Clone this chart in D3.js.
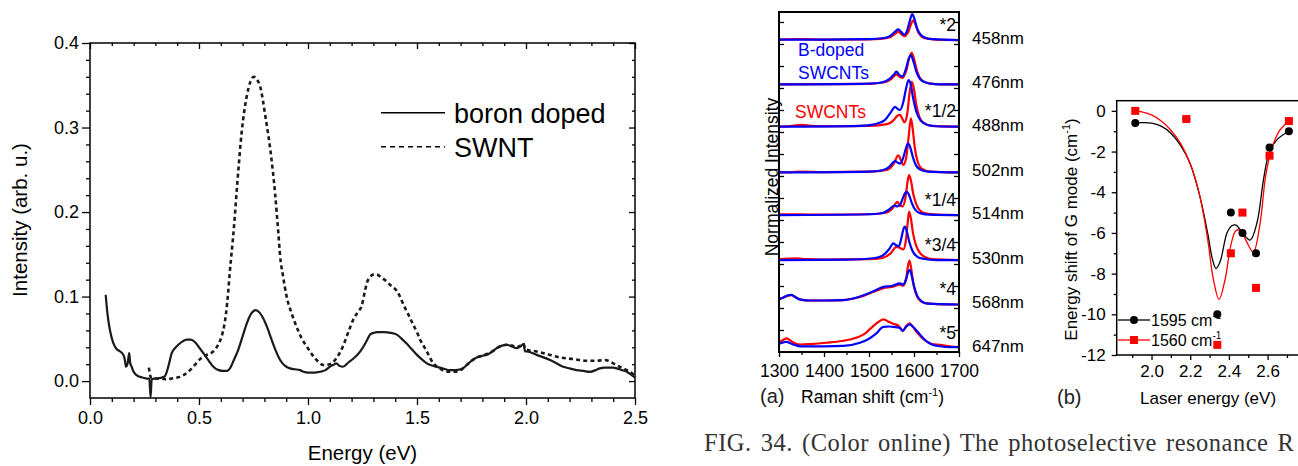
<!DOCTYPE html>
<html>
<head>
<meta charset="utf-8">
<script src="https://cdn.jsdelivr.net/npm/d3@7"></script>
<style>
  body { margin: 0; background: #fff; }
  svg { display: block; }
</style>
</head>
<body>
<svg id="fig" width="1298" height="466"></svg>
<script>
// ---------------- Absorption spectra (left panel) ----------------
const energyTicks = [0, 0.5, 1.0, 1.5, 2.0, 2.5];
const intensityTicks = [0, 0.1, 0.2, 0.3, 0.4];
const absSeriesNames = ["boron doped", "SWNT"];

// [energy (eV), intensity (arb. u.)]
const boronDoped = [
  [0.072,0.102],[0.078,0.085],[0.084,0.072],[0.095,0.056],[0.107,0.045],[0.122,0.038],[0.138,0.035],
  [0.153,0.031],[0.160,0.025],[0.165,0.017],[0.172,0.020],[0.178,0.031],[0.180,0.033],[0.184,0.022],
  [0.191,0.017],[0.200,0.011],[0.214,0.007],[0.230,0.005],[0.245,0.004],[0.260,0.003],[0.272,0.003],
  [0.278,-0.019],[0.283,0.002],[0.295,0.003],[0.306,0.003],[0.325,0.004],[0.344,0.006],[0.360,0.018],
  [0.375,0.033],[0.390,0.039],[0.405,0.043],[0.425,0.047],[0.443,0.049],[0.462,0.049],[0.482,0.046],
  [0.500,0.040],[0.520,0.033],[0.545,0.024],[0.566,0.017],[0.590,0.013],[0.612,0.012],[0.630,0.012],
  [0.642,0.015],[0.660,0.025],[0.680,0.037],[0.700,0.053],[0.719,0.068],[0.740,0.080],[0.760,0.084],
  [0.778,0.081],[0.795,0.074],[0.815,0.062],[0.833,0.049],[0.852,0.036],[0.872,0.025],[0.895,0.018],
  [0.917,0.015],[0.940,0.014],[0.963,0.013],[0.980,0.011],[1.000,0.010],[1.030,0.010],[1.055,0.011],
  [1.080,0.013],[1.100,0.017],[1.115,0.019],[1.130,0.021],[1.145,0.018],[1.160,0.017],[1.185,0.022],
  [1.210,0.027],[1.230,0.032],[1.250,0.039],[1.270,0.048],[1.285,0.055],[1.300,0.057],[1.320,0.058],
  [1.350,0.058],[1.380,0.057],[1.407,0.055],[1.430,0.050],[1.450,0.045],[1.475,0.038],[1.500,0.031],
  [1.525,0.025],[1.545,0.021],[1.575,0.018],[1.605,0.016],[1.630,0.014],[1.650,0.013],[1.675,0.013],
  [1.700,0.014],[1.715,0.016],[1.728,0.019],[1.750,0.024],[1.774,0.028],[1.800,0.030],[1.820,0.031],
  [1.845,0.035],[1.866,0.039],[1.890,0.042],[1.910,0.043],[1.935,0.041],[1.957,0.039],[1.975,0.041],
  [1.990,0.044],[1.995,0.035],[2.003,0.035],[2.049,0.031],[2.110,0.025],[2.140,0.021],[2.171,0.017],
  [2.200,0.015],[2.232,0.013],[2.264,0.012],[2.294,0.011],[2.320,0.013],[2.339,0.015],[2.360,0.016],
  [2.378,0.016],[2.400,0.016],[2.416,0.015],[2.440,0.013],[2.462,0.011],[2.480,0.008],[2.500,0.004]
];

const swnt = [
  [0.270,0.016],[0.275,0.008],[0.280,0.004],[0.300,0.003],[0.330,0.003],[0.350,0.002],[0.375,0.003],
  [0.395,0.004],[0.413,0.005],[0.435,0.008],[0.459,0.013],[0.480,0.019],[0.505,0.026],[0.535,0.031],
  [0.555,0.033],[0.573,0.037],[0.590,0.044],[0.604,0.053],[0.615,0.065],[0.624,0.080],[0.633,0.103],
  [0.642,0.131],[0.658,0.175],[0.676,0.235],[0.696,0.295],[0.719,0.337],[0.737,0.355],[0.752,0.360],
  [0.765,0.357],[0.780,0.349],[0.807,0.309],[0.829,0.270],[0.849,0.222],[0.864,0.175],[0.872,0.148],
  [0.885,0.125],[0.902,0.100],[0.925,0.080],[0.948,0.064],[0.970,0.051],[0.994,0.041],[1.020,0.031],
  [1.047,0.023],[1.070,0.019],[1.100,0.020],[1.130,0.027],[1.160,0.041],[1.185,0.058],[1.210,0.074],
  [1.230,0.082],[1.246,0.089],[1.260,0.105],[1.270,0.116],[1.284,0.123],[1.300,0.126],[1.315,0.126],
  [1.340,0.122],[1.360,0.118],[1.376,0.114],[1.390,0.111],[1.407,0.107],[1.420,0.101],[1.435,0.092],
  [1.450,0.084],[1.460,0.079],[1.480,0.068],[1.500,0.058],[1.514,0.049],[1.530,0.042],[1.545,0.035],
  [1.575,0.021],[1.605,0.015],[1.625,0.012],[1.650,0.011],[1.675,0.011],[1.700,0.013],[1.715,0.016],
  [1.728,0.019],[1.750,0.024],[1.774,0.028],[1.800,0.030],[1.820,0.032],[1.845,0.035],[1.866,0.039],
  [1.890,0.042],[1.910,0.043],[1.935,0.042],[1.957,0.040],[1.975,0.042],[1.990,0.044],[1.995,0.038],
  [2.003,0.037],[2.049,0.035],[2.110,0.031],[2.156,0.028],[2.217,0.026],[2.278,0.024],[2.320,0.024],
  [2.362,0.025],[2.400,0.021],[2.430,0.017],[2.462,0.013],[2.500,0.007]
];

// ---------------- (a) Raman G-band spectra ----------------
const ramanTicks = [1300, 1400, 1500, 1600, 1700];
const laserLines = ["458nm", "476nm", "488nm", "502nm", "514nm", "530nm", "568nm", "647nm"];
const scaleNotes = ["*2", "", "*1/2", "", "*1/4", "*3/4", "*4", "*5"];
const stackOffsets = [7.09, 6.08, 5.12, 4.08, 3.11, 2.09, 1.08, 0.08];

// [Raman shift (cm-1), normalized intensity]
const blue458 = [[1300,0.01],[1400,0.01],[1500,0.02],[1530,0.04],[1545,0.08],[1555,0.16],[1565,0.24],[1572,0.18],[1578,0.12],[1585,0.22],[1591,0.45],[1596,0.59],[1601,0.48],[1607,0.26],[1615,0.12],[1625,0.05],[1640,0.02],[1700,0.0]];
const red458  = [[1300,0.01],[1350,0.02],[1400,0.01],[1500,0.015],[1530,0.03],[1548,0.07],[1558,0.14],[1565,0.19],[1572,0.13],[1579,0.09],[1588,0.2],[1594,0.38],[1598,0.45],[1603,0.36],[1609,0.19],[1617,0.08],[1630,0.03],[1650,0.01],[1700,0.0]];
const blue476 = [[1300,0.0],[1500,0.02],[1530,0.05],[1545,0.12],[1555,0.22],[1561,0.29],[1567,0.22],[1574,0.18],[1582,0.35],[1588,0.58],[1593,0.67],[1598,0.55],[1605,0.3],[1613,0.13],[1625,0.05],[1645,0.01],[1700,0.0]];
const red476  = [[1300,0.0],[1500,0.015],[1535,0.05],[1550,0.13],[1561,0.23],[1567,0.18],[1574,0.15],[1583,0.32],[1590,0.62],[1595,0.72],[1600,0.58],[1607,0.3],[1615,0.12],[1627,0.04],[1650,0.01],[1700,0.0]];
const blue488 = [[1300,0.0],[1480,0.02],[1515,0.06],[1535,0.15],[1548,0.32],[1558,0.45],[1564,0.4],[1569,0.38],[1576,0.55],[1582,0.85],[1588,1.06],[1593,0.95],[1598,0.65],[1605,0.35],[1615,0.14],[1630,0.04],[1650,0.01],[1700,0.0]];
const red488  = [[1300,0.0],[1330,0.02],[1350,0.04],[1370,0.02],[1400,0.01],[1500,0.02],[1540,0.06],[1555,0.15],[1563,0.25],[1569,0.27],[1574,0.18],[1579,0.1],[1585,0.3],[1590,0.75],[1595,1.02],[1600,0.85],[1605,0.5],[1612,0.22],[1622,0.08],[1640,0.02],[1700,0.0]];
const blue502 = [[1300,0.0],[1500,0.02],[1530,0.05],[1545,0.13],[1558,0.26],[1564,0.22],[1569,0.2],[1576,0.33],[1582,0.55],[1587,0.66],[1592,0.56],[1598,0.33],[1605,0.15],[1615,0.06],[1630,0.02],[1700,0.0]];
const red502  = [[1300,0.0],[1330,0.01],[1350,0.02],[1400,0.01],[1500,0.02],[1540,0.06],[1555,0.2],[1565,0.39],[1571,0.28],[1576,0.17],[1582,0.3],[1588,0.8],[1593,1.23],[1597,1.0],[1602,0.55],[1608,0.25],[1618,0.08],[1635,0.02],[1700,0.0]];
const blue514 = [[1300,0.0],[1500,0.02],[1530,0.05],[1545,0.13],[1556,0.22],[1563,0.2],[1568,0.22],[1575,0.38],[1580,0.5],[1584,0.53],[1589,0.46],[1595,0.28],[1603,0.12],[1615,0.04],[1635,0.01],[1700,0.0]];
const red514  = [[1300,0.02],[1350,0.02],[1400,0.01],[1500,0.02],[1540,0.06],[1553,0.16],[1563,0.30],[1569,0.22],[1575,0.2],[1581,0.4],[1586,0.78],[1589,0.91],[1593,0.8],[1598,0.5],[1604,0.28],[1612,0.12],[1625,0.04],[1650,0.01],[1700,0.0]];
const blue530 = [[1300,0.0],[1450,0.01],[1510,0.04],[1530,0.1],[1545,0.25],[1554,0.38],[1560,0.34],[1566,0.31],[1572,0.5],[1577,0.72],[1580,0.76],[1584,0.65],[1590,0.4],[1597,0.2],[1607,0.08],[1620,0.03],[1650,0.0],[1700,0.0]];
const red530  = [[1300,0.02],[1340,0.04],[1360,0.02],[1400,0.01],[1500,0.02],[1530,0.05],[1548,0.15],[1561,0.30],[1568,0.28],[1576,0.24],[1582,0.45],[1586,0.85],[1589,1.10],[1593,0.95],[1598,0.6],[1604,0.35],[1612,0.18],[1622,0.08],[1640,0.02],[1700,0.0]];
const blue568 = [[1300,0.12],[1310,0.16],[1320,0.21],[1328,0.22],[1336,0.17],[1348,0.11],[1370,0.09],[1400,0.09],[1443,0.1],[1480,0.18],[1510,0.3],[1532,0.4],[1550,0.42],[1569,0.48],[1576,0.45],[1583,0.6],[1588,0.76],[1591,0.78],[1595,0.65],[1600,0.42],[1607,0.2],[1617,0.07],[1630,0.02],[1700,0.0]];
const red568  = [[1300,0.12],[1310,0.16],[1320,0.2],[1328,0.21],[1336,0.17],[1348,0.11],[1370,0.09],[1400,0.09],[1443,0.1],[1480,0.17],[1510,0.29],[1532,0.37],[1550,0.4],[1569,0.45],[1576,0.43],[1582,0.55],[1587,0.9],[1590,1.0],[1594,0.8],[1598,0.5],[1604,0.25],[1612,0.1],[1625,0.03],[1650,0.01],[1700,0.0]];
const blue647 = [[1300,0.11],[1310,0.14],[1317,0.15],[1325,0.12],[1335,0.08],[1348,0.05],[1400,0.05],[1443,0.06],[1480,0.13],[1500,0.22],[1515,0.33],[1532,0.49],[1545,0.5],[1554,0.49],[1565,0.48],[1570,0.45],[1575,0.40],[1582,0.49],[1590,0.55],[1597,0.5],[1608,0.38],[1618,0.26],[1628,0.16],[1640,0.09],[1658,0.05],[1680,0.03],[1700,0.03]];
const red647  = [[1300,0.15],[1310,0.2],[1317,0.23],[1325,0.18],[1335,0.12],[1348,0.09],[1370,0.1],[1406,0.13],[1440,0.17],[1473,0.25],[1490,0.33],[1502,0.44],[1518,0.58],[1532,0.66],[1545,0.6],[1554,0.56],[1565,0.52],[1570,0.46],[1575,0.40],[1582,0.5],[1590,0.57],[1597,0.5],[1608,0.35],[1618,0.24],[1628,0.16],[1640,0.1],[1658,0.08],[1680,0.05],[1700,0.03]];

const blueSpectra = [blue458, blue476, blue488, blue502, blue514, blue530, blue568, blue647];
const redSpectra  = [red458, red476, red488, red502, red514, red530, red568, red647];

// ---------------- (b) G-mode shift vs laser energy ----------------
const laserTicks = [2.0, 2.2, 2.4, 2.6];
const shiftTicks = [0, -2, -4, -6, -8, -10, -12];
const modeNames = ["1595", "1560"];
// measured shifts [laser energy (eV), shift (cm-1)]
const shift1595 = [[1.916,-0.6],[2.18,-0.4],[2.34,-10.0],[2.41,-5.0],[2.47,-6.0],[2.54,-7.0],[2.61,-1.8],[2.71,-1.0]];
const shift1560 = [[1.916,0.0],[2.18,-0.4],[2.34,-11.5],[2.41,-7.0],[2.47,-5.0],[2.54,-8.7],[2.61,-2.2],[2.71,-0.5]];
// fitted guide curves
const fit1595 = [[1.916,-0.6],[1.95,-0.58],[2.0,-0.6],[2.05,-0.75],[2.1,-1.1],[2.15,-1.7],[2.2,-2.6],[2.25,-4.2],[2.29,-6.0],[2.315,-7.3],[2.333,-7.75],[2.355,-7.4],[2.39,-6.0],[2.415,-5.65],[2.437,-5.62],[2.47,-6.0],[2.51,-6.35],[2.545,-5.5],[2.58,-3.3],[2.61,-2.0],[2.65,-1.4],[2.71,-1.0]];
const fit1560 = [[1.916,0.0],[1.95,-0.05],[2.0,-0.2],[2.05,-0.5],[2.1,-0.95],[2.15,-1.6],[2.2,-2.6],[2.25,-4.2],[2.29,-6.3],[2.32,-8.3],[2.349,-9.27],[2.38,-8.3],[2.41,-6.6],[2.435,-5.9],[2.457,-5.86],[2.49,-6.4],[2.526,-6.95],[2.56,-5.6],[2.59,-3.2],[2.62,-1.9],[2.66,-1.0],[2.71,-0.5]];

// ================================================================
const svg = d3.select("#fig");
const SANS = "'Liberation Sans', Arial, Helvetica, sans-serif";

function styleAxis(g, size) {
  g.select(".domain").remove();
  g.selectAll(".tick line").attr("stroke", "#000").attr("stroke-width", 1.3);
  g.selectAll(".tick text").attr("font-family", SANS).attr("font-size", size).attr("fill", "#000");
  return g;
}
const steps = (a, b, s) => d3.range(Math.round((b - a) / s) + 1).map(i => +(a + i * s).toFixed(4));
const notIn = (arr) => (v) => !arr.some(t => Math.abs(t - v) < 1e-6);

// ---------- Left panel ----------
{
  const x = d3.scaleLinear().domain([0, 2.5]).range([90, 635]);
  const y = d3.scaleLinear().domain([-0.02, 0.4]).range([398, 43]);
  const g = svg.append("g");

  const xMinor = steps(0, 2.5, 0.1).filter(notIn(energyTicks));
  const yMinor = steps(0, 0.4, 0.02).filter(notIn(intensityTicks));

  styleAxis(g.append("g").attr("transform", "translate(0,398)")
    .call(d3.axisBottom(x).tickValues(energyTicks).tickSize(7).tickPadding(6).tickFormat(d3.format(".1f"))), 18);
  styleAxis(g.append("g").attr("transform", "translate(0,398)")
    .call(d3.axisBottom(x).tickValues(xMinor).tickSize(4).tickFormat("")), 18);
  styleAxis(g.append("g").attr("transform", "translate(0,43)")
    .call(d3.axisTop(x).tickValues(energyTicks).tickSize(-6).tickFormat("")), 18);
  styleAxis(g.append("g").attr("transform", "translate(0,43)")
    .call(d3.axisTop(x).tickValues(xMinor).tickSize(-3).tickFormat("")), 18);
  styleAxis(g.append("g").attr("transform", "translate(90,0)")
    .call(d3.axisLeft(y).tickValues(intensityTicks).tickSize(8).tickPadding(3).tickFormat(d3.format(".1f"))), 18);
  styleAxis(g.append("g").attr("transform", "translate(90,0)")
    .call(d3.axisLeft(y).tickValues(yMinor).tickSize(4).tickFormat("")), 18);
  styleAxis(g.append("g").attr("transform", "translate(635,0)")
    .call(d3.axisRight(y).tickValues(intensityTicks).tickSize(-6).tickFormat("")), 18);
  styleAxis(g.append("g").attr("transform", "translate(635,0)")
    .call(d3.axisRight(y).tickValues(yMinor).tickSize(-3).tickFormat("")), 18);

  g.append("rect").attr("x", 90).attr("y", 43).attr("width", 545).attr("height", 355)
    .attr("fill", "none").attr("stroke", "#000").attr("stroke-width", 1.5);

  const line = d3.line().x(d => x(d[0])).y(d => y(d[1])).curve(d3.curveMonotoneX);
  g.append("path").datum(swnt).attr("d", line).attr("fill", "none")
    .attr("stroke", "#1a1a1a").attr("stroke-width", 2.6).attr("stroke-dasharray", "4,3.2");
  g.append("path").datum(boronDoped).attr("d", line).attr("fill", "none")
    .attr("stroke", "#1a1a1a").attr("stroke-width", 2.2).attr("stroke-linejoin", "round");

  // legend
  const leg = g.append("g").attr("font-family", SANS).attr("font-size", 27).attr("fill", "#000");
  leg.append("line").attr("x1", 381).attr("x2", 445).attr("y1", 112.7).attr("y2", 112.7)
    .attr("stroke", "#000").attr("stroke-width", 1.6);
  leg.append("line").attr("x1", 381).attr("x2", 445).attr("y1", 146.7).attr("y2", 146.7)
    .attr("stroke", "#000").attr("stroke-width", 1.6).attr("stroke-dasharray", "5,4");
  leg.append("text").attr("x", 454).attr("y", 123).text(absSeriesNames[0]);
  leg.append("text").attr("x", 454).attr("y", 157).text(absSeriesNames[1]);

  g.append("text").attr("transform", "translate(27,220) rotate(-90)").attr("text-anchor", "middle")
    .attr("font-family", SANS).attr("font-size", 20.5).text("Intensity (arb. u.)");
  g.append("text").attr("x", 362.5).attr("y", 460).attr("text-anchor", "middle")
    .attr("font-family", SANS).attr("font-size", 20.5).text("Energy (eV)");
}

// ---------- Panel (a) ----------
{
  const x = d3.scaleLinear().domain([1300, 1700]).range([779, 959]);
  const y = d3.scaleLinear().domain([0, 7.727]).range([352, 12]);
  const g = svg.append("g");

  const line = d3.line().x(d => x(d[0])).curve(d3.curveMonotoneX);
  laserLines.forEach((name, i) => {
    const off = stackOffsets[i];
    line.y(d => y(d[1] + off));
    g.append("path").datum(redSpectra[i]).attr("d", line).attr("fill", "none")
      .attr("stroke", "#ff0000").attr("stroke-width", 2.2).attr("stroke-linejoin", "round");
    g.append("path").datum(blueSpectra[i]).attr("d", line).attr("fill", "none")
      .attr("stroke", "#0000ff").attr("stroke-width", 2.2).attr("stroke-linejoin", "round");
    g.append("text").attr("x", 972).attr("y", y(off) + 4).attr("font-family", SANS)
      .attr("font-size", 17).attr("fill", "#000").text(name);
    if (scaleNotes[i]) {
      g.append("text").attr("x", 956).attr("y", y(off) - 9.5).attr("text-anchor", "end")
        .attr("font-family", SANS).attr("font-size", 17.5).attr("fill", "#000").text(scaleNotes[i]);
    }
  });

  const xMinor = steps(1350, 1650, 100);
  const yTicks = steps(0.5, 7.5, 0.5);
  styleAxis(g.append("g").attr("transform", "translate(0,352)")
    .call(d3.axisBottom(x).tickValues(ramanTicks).tickSize(5).tickPadding(7.5).tickFormat(d3.format("d"))), 17.5);
  styleAxis(g.append("g").attr("transform", "translate(0,352)")
    .call(d3.axisBottom(x).tickValues(xMinor).tickSize(3).tickFormat("")), 17);
  styleAxis(g.append("g").attr("transform", "translate(779,0)")
    .call(d3.axisLeft(y).tickValues(yTicks).tickSize(-5).tickFormat("")), 17);
  styleAxis(g.append("g").attr("transform", "translate(959,0)")
    .call(d3.axisRight(y).tickValues(yTicks).tickSize(-5).tickFormat("")), 17);

  g.append("rect").attr("x", 779).attr("y", 12).attr("width", 180).attr("height", 340)
    .attr("fill", "none").attr("stroke", "#000").attr("stroke-width", 2);

  const t = g.append("g").attr("font-family", SANS).attr("font-size", 17.5);
  t.append("text").attr("x", 798).attr("y", 56).attr("fill", "#0000ff").text("B-doped");
  t.append("text").attr("x", 798).attr("y", 78.5).attr("fill", "#0000ff").text("SWCNTs");
  t.append("text").attr("x", 795).attr("y", 118).attr("fill", "#ff0000").text("SWCNTs");

  g.append("text").attr("transform", "translate(778,177) rotate(-90)").attr("text-anchor", "middle")
    .attr("font-family", SANS).attr("font-size", 17.5).attr("fill", "#000").text("Normalized Intensity");

  g.append("text").attr("x", 760).attr("y", 403).attr("font-family", SANS).attr("font-size", 20)
    .attr("fill", "#222").text("(a)");
  const xt = g.append("text").attr("x", 801).attr("y", 403).attr("font-family", SANS)
    .attr("font-size", 17.5).attr("fill", "#000");
  xt.append("tspan").text("Raman shift (cm");
  xt.append("tspan").attr("font-size", 11).attr("dy", -7).text("-1");
  xt.append("tspan").attr("dy", 7).text(")");
}

// ---------- Panel (b) ----------
{
  const x = d3.scaleLinear().domain([1.82, 2.8]).range([1116.7, 1306.3]);
  const y = d3.scaleLinear().domain([-12, 0.5]).range([355, 100.7]);
  const g = svg.append("g");

  const xMinor = steps(1.9, 2.7, 0.2);
  const yMinor = steps(-11, -1, 2);
  styleAxis(g.append("g").attr("transform", "translate(0,355)")
    .call(d3.axisBottom(x).tickValues(laserTicks).tickSize(5).tickPadding(5).tickFormat(d3.format(".1f"))), 17);
  styleAxis(g.append("g").attr("transform", "translate(0,355)")
    .call(d3.axisBottom(x).tickValues(xMinor).tickSize(3).tickFormat("")), 17);
  styleAxis(g.append("g").attr("transform", "translate(1116.7,0)")
    .call(d3.axisLeft(y).tickValues(shiftTicks).tickSize(5).tickPadding(6).tickFormat(d => d === 0 ? "0" : "-" + Math.abs(d))), 17);
  styleAxis(g.append("g").attr("transform", "translate(1116.7,0)")
    .call(d3.axisLeft(y).tickValues(yMinor).tickSize(3).tickFormat("")), 17);

  g.append("rect").attr("x", 1116.7).attr("y", 100.7).attr("width", 189.6).attr("height", 254.3)
    .attr("fill", "none").attr("stroke", "#000").attr("stroke-width", 1.5);

  const line = d3.line().x(d => x(d[0])).y(d => y(d[1])).curve(d3.curveCatmullRom.alpha(0.5));
  g.append("path").datum(fit1595).attr("d", line).attr("fill", "none").attr("stroke", "#000").attr("stroke-width", 1.3);
  g.append("path").datum(fit1560).attr("d", line).attr("fill", "none").attr("stroke", "#ff0000").attr("stroke-width", 1.3);

  g.selectAll("circle.m").data(shift1595).join("circle").attr("class", "m")
    .attr("cx", d => x(d[0])).attr("cy", d => y(d[1])).attr("r", 4).attr("fill", "#000");
  g.selectAll("rect.m").data(shift1560).join("rect").attr("class", "m")
    .attr("x", d => x(d[0]) - 4).attr("y", d => y(d[1]) - 4).attr("width", 8).attr("height", 8).attr("fill", "#ff0000");

  // legend
  const leg = g.append("g").attr("font-family", SANS).attr("font-size", 16).attr("fill", "#000");
  leg.append("line").attr("x1", 1118).attr("x2", 1150).attr("y1", 320).attr("y2", 320).attr("stroke", "#000").attr("stroke-width", 1.3);
  leg.append("circle").attr("cx", 1134).attr("cy", 320).attr("r", 4).attr("fill", "#000");
  leg.append("line").attr("x1", 1118).attr("x2", 1150).attr("y1", 340).attr("y2", 340).attr("stroke", "#ff0000").attr("stroke-width", 1.3);
  leg.append("rect").attr("x", 1130).attr("y", 336).attr("width", 8).attr("height", 8).attr("fill", "#ff0000");
  [[modeNames[0], 326], [modeNames[1], 346]].forEach(([m, yy]) => {
    const tx = leg.append("text").attr("x", 1151).attr("y", yy);
    tx.append("tspan").text(m + " cm");
    tx.append("tspan").attr("font-size", 10).attr("dy", -7).text("-1");
  });

  const yt = g.append("text").attr("transform", "translate(1077,229.5) rotate(-90)").attr("text-anchor", "middle")
    .attr("font-family", SANS).attr("font-size", 17).attr("fill", "#000");
  yt.append("tspan").text("Energy shift of G mode (cm");
  yt.append("tspan").attr("font-size", 11).attr("dy", -7).text("-1");
  yt.append("tspan").attr("dy", 7).text(")");

  g.append("text").attr("x", 1057).attr("y", 404).attr("font-family", SANS).attr("font-size", 20)
    .attr("fill", "#222").text("(b)");
  g.append("text").attr("x", 1140).attr("y", 404).attr("font-family", SANS).attr("font-size", 17)
    .attr("fill", "#000").text("Laser energy (eV)");
}

// ---------- Caption ----------
svg.append("text").attr("x", 704).attr("y", 451)
  .attr("font-family", "'Liberation Serif', 'Times New Roman', serif").attr("font-size", 24.5)
  .attr("letter-spacing", 0.5).attr("word-spacing", 2.5).attr("fill", "#333")
  .text("FIG. 34. (Color online) The photoselective resonance R");
</script>
</body>
</html>
